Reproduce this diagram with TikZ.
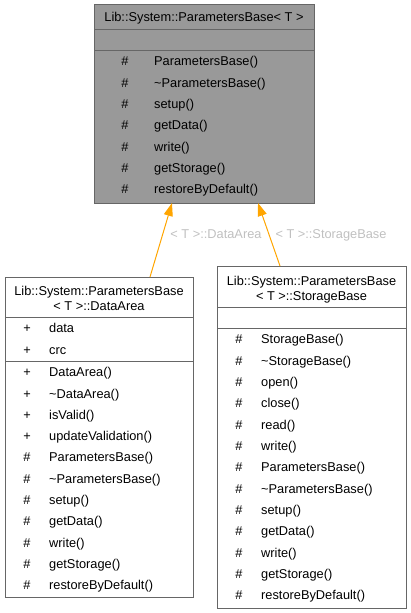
\documentclass[tikz,border=0pt]{standalone}
\usepackage{fontspec}
\setmainfont{Liberation Sans}
\usetikzlibrary{arrows.meta}
\definecolor{nodefill}{HTML}{999999}
\definecolor{nodeborder}{HTML}{666666}
\definecolor{edgeorange}{HTML}{FFA500}
\definecolor{labelgrey}{HTML}{C0C0C0}
\begin{document}
\begin{tikzpicture}[x=1pt,y=-1pt,
  txt/.style={font=\fontsize{12.8}{15}\selectfont, inner sep=0pt, text height=12pt, text depth=2.5pt},
  mem/.style={txt, anchor=west},
  sym/.style={txt, anchor=center},
  box/.style={draw=nodeborder, line width=0.9pt, inner sep=0pt, anchor=north west},
  divider/.style={draw=nodeborder, line width=0.9pt},
  inh/.style={draw=edgeorange, line width=1pt, -{Triangle[length=13pt,width=9pt]}},
  elabel/.style={txt, text=labelgrey}]
\useasboundingbox (0,0) rectangle (411,613);

% ---------- top box ----------
\node[box, fill=nodefill, minimum width=220pt, minimum height=199pt] (base) at (94,4) {};
\draw[divider] (94,29) -- (314,29);
\draw[divider] (94,50) -- (314,50);
\node[sym] (baseTitle) at (204,17) {Lib::System::ParametersBase< T >};
\foreach \n [count=\i from 0] in {ParametersBase(),\textasciitilde ParametersBase(),setup(),getData(),write(),getStorage(),restoreByDefault()} {
  \node[sym] (bs\i) at (125,61+\i*21.33) {\#};
  \node[mem] (bm\i) at (154,61+\i*21.33) {\n};
}

% ---------- left box ----------
\node[box, fill=white, minimum width=188pt, minimum height=320pt] (da) at (5,277) {};
\node[sym] (daT1) at (99,291) {Lib::System::ParametersBase};
\node[sym] (daT2) at (99,306) {< T >::DataArea};
\draw[divider] (5,317) -- (193,317);
\node[sym] (das0) at (27,328) {+};
\node[mem] (dam0) at (49,328) {data};
\node[sym] (das1) at (27,349.5) {+};
\node[mem] (dam1) at (49,349.5) {crc};
\draw[divider] (5,361) -- (193,361);
\foreach \s/\n [count=\i from 0] in {+/DataArea(),+/\textasciitilde DataArea(),+/isValid(),+/updateValidation(),\#/ParametersBase(),\#/\textasciitilde ParametersBase(),\#/setup(),\#/getData(),\#/write(),\#/getStorage(),\#/restoreByDefault()} {
  \node[sym] (dms\i) at (27,372+\i*21.3) {\s};
  \node[mem] (dmm\i) at (49,372+\i*21.3) {\n};
}

% ---------- right box ----------
\node[box, fill=white, minimum width=189pt, minimum height=342pt] (sb) at (217,266) {};
\node[sym] (sbT1) at (311.5,281) {Lib::System::ParametersBase};
\node[sym] (sbT2) at (311.5,296) {< T >::StorageBase};
\draw[divider] (217,307) -- (406,307);
\draw[divider] (217,328) -- (406,328);
\foreach \n [count=\i from 0] in {StorageBase(),\textasciitilde StorageBase(),open(),close(),read(),write(),ParametersBase(),\textasciitilde ParametersBase(),setup(),getData(),write(),getStorage(),restoreByDefault()} {
  \node[sym] (sms\i) at (239,339+\i*21.33) {\#};
  \node[mem] (smm\i) at (261,339+\i*21.33) {\n};
}

% ---------- inheritance ----------
\coordinate (daStart) at (150,277);
\coordinate (daEnd) at (172,203);
\coordinate (sbStart) at (280,266);
\coordinate (sbEnd) at (258,203);
\draw[inh] (daStart) -- (daEnd);
\draw[inh] (sbStart) -- (sbEnd);
\node[elabel] (daLab) at (216,234) {< T >::DataArea};
\node[elabel] (sbLab) at (331,234) {< T >::StorageBase};
\end{tikzpicture}
\end{document}
